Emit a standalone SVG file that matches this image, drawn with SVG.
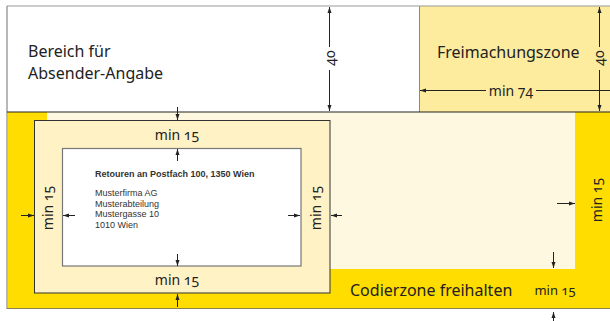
<svg xmlns="http://www.w3.org/2000/svg" width="610" height="321" viewBox="0 0 610 321">
<defs>
<style>
.t{font-family:"Noto Sans","Open Sans",sans-serif;fill:#222;font-variant-numeric:oldstyle-nums;font-feature-settings:"onum" 1}
.a{font-family:"Liberation Sans",Arial,sans-serif;fill:#333;font-size:9px}
.d{stroke:#222;stroke-width:1;fill:none}
</style>
<marker id="ah" viewBox="0 0 6 6" refX="6" refY="3" markerWidth="6" markerHeight="6" orient="auto" markerUnits="userSpaceOnUse">
<path d="M0,1 L6,3 L0,5 Z" fill="#222"/>
</marker>
</defs>
<rect x="0" y="0" width="610" height="321" fill="#fff"/>
<g id="absender">
<rect x="7" y="6" width="412" height="106" fill="#fff"/>
<text class="t" x="28" y="57" font-size="16">Bereich für</text>
<text class="t" x="28" y="79" font-size="16">Absender-Angabe</text>
</g>
<g id="freimachungszone">
<rect x="419" y="6" width="191" height="106" fill="#FDEB9E"/>
<line x1="419.5" y1="6" x2="419.5" y2="112" stroke="#888" stroke-width="1"/>
<text class="t" x="437" y="58" font-size="16">Freimachungszone</text>
</g>
<g id="codierzone">
<rect x="8" y="112" width="602" height="196" fill="#FFDD00"/>
<rect x="47" y="112" width="528" height="157" fill="#FFF8E0"/>
<text class="t" x="350" y="296" font-size="16">Codierzone freihalten</text>
</g>
<g id="rand">
<rect x="34.5" y="120.5" width="295.5" height="172.5" fill="#FFF2C4" stroke="#333" stroke-width="1"/>
</g>
<g id="adressfeld">
<rect x="62.5" y="148.5" width="238.5" height="117.5" fill="#fff" stroke="#777" stroke-width="1.2"/>
<text class="a" x="95" y="177" font-weight="bold" font-size="9.3">Retouren an Postfach 100, 1350 Wien</text>
<text class="a" x="95" y="196">Musterfirma AG</text>
<text class="a" x="95" y="206.5">Musterabteilung</text>
<text class="a" x="95" y="217">Mustergasse 10</text>
<text class="a" x="95" y="227.5">1010 Wien</text>
</g>
<g id="borders">
<line x1="7" y1="6" x2="610" y2="6" stroke="#999" stroke-width="1.2"/>
<line x1="7" y1="6" x2="7" y2="309" stroke="#888" stroke-width="1.2"/>
<line x1="7" y1="308.5" x2="610" y2="308.5" stroke="#8a8050" stroke-width="1.2"/>
<line x1="7" y1="112" x2="610" y2="112" stroke="#222" stroke-width="1.2"/>
</g>
<g id="labels">
<text class="t" x="177" y="140" font-size="14" text-anchor="middle">min 15</text>
<text class="t" x="177" y="285" font-size="14" text-anchor="middle">min 15</text>
<text class="t" font-size="14" text-anchor="middle" transform="translate(53,208) rotate(-90)">min 15</text>
<text class="t" font-size="14" text-anchor="middle" transform="translate(321,208) rotate(-90)">min 15</text>
<text class="t" font-size="14" text-anchor="middle" transform="translate(602,200) rotate(-90)">min 15</text>
<text class="t" x="555" y="295" font-size="13" text-anchor="middle">min 15</text>
<text class="t" x="511" y="96" font-size="14" text-anchor="middle">min 74</text>
<text class="t" font-size="14" text-anchor="middle" transform="translate(335,58) rotate(-90)">40</text>
<text class="t" font-size="14" text-anchor="middle" transform="translate(604,58) rotate(-90)">40</text>
</g>
<g id="connectors">
<line class="d" x1="329.5" y1="47" x2="329.5" y2="7" marker-end="url(#ah)"/>
<line class="d" x1="329.5" y1="70" x2="329.5" y2="111" marker-end="url(#ah)"/>
<line class="d" x1="599.5" y1="47" x2="599.5" y2="7" marker-end="url(#ah)"/>
<line class="d" x1="599.5" y1="70" x2="599.5" y2="111" marker-end="url(#ah)"/>
<line class="d" x1="486" y1="90.5" x2="420" y2="90.5" marker-end="url(#ah)"/>
<line class="d" x1="536" y1="90.5" x2="610" y2="90.5"/>
<line class="d" x1="177.5" y1="107" x2="177.5" y2="120" marker-end="url(#ah)"/>
<line class="d" x1="177.5" y1="161" x2="177.5" y2="149" marker-end="url(#ah)"/>
<line class="d" x1="177.5" y1="254" x2="177.5" y2="266" marker-end="url(#ah)"/>
<line class="d" x1="177.5" y1="307" x2="177.5" y2="294" marker-end="url(#ah)"/>
<line class="d" x1="21" y1="215.5" x2="34" y2="215.5" marker-end="url(#ah)"/>
<line class="d" x1="75" y1="215.5" x2="63" y2="215.5" marker-end="url(#ah)"/>
<line class="d" x1="288" y1="215.5" x2="300" y2="215.5" marker-end="url(#ah)"/>
<line class="d" x1="342" y1="215.5" x2="331" y2="215.5" marker-end="url(#ah)"/>
<line class="d" x1="557" y1="203.5" x2="575" y2="203.5" marker-end="url(#ah)"/>
<line class="d" x1="553.5" y1="252" x2="553.5" y2="268" marker-end="url(#ah)"/>
<line class="d" x1="553.5" y1="321" x2="553.5" y2="312" marker-end="url(#ah)"/>
</g>
</svg>
